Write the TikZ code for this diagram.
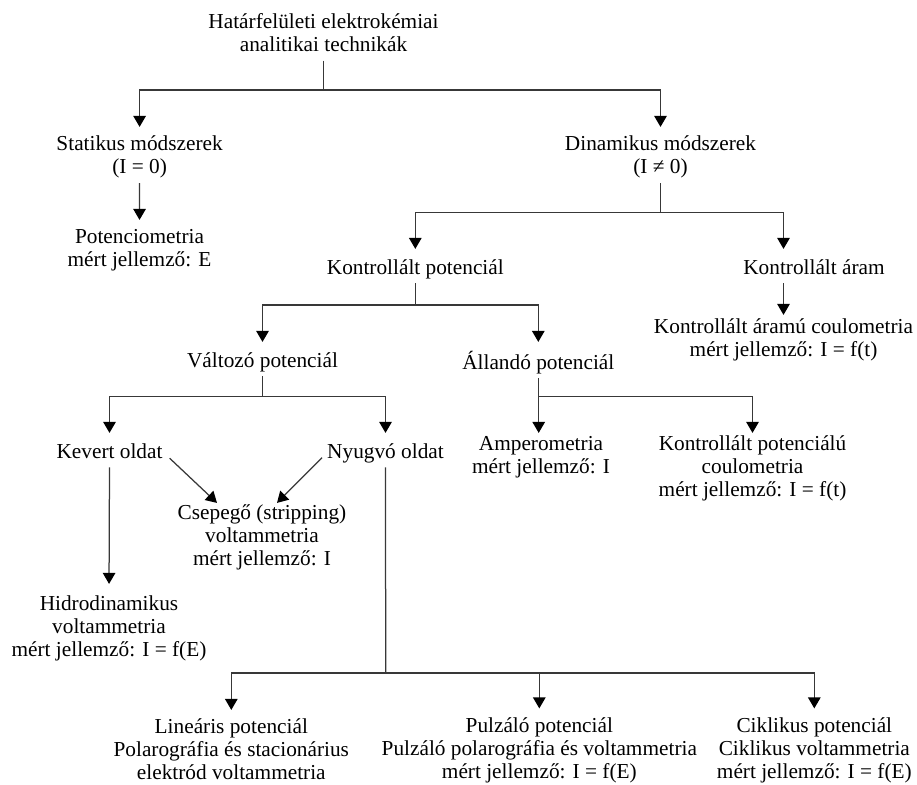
\documentclass[tikz,border=0pt]{standalone}
\usepackage{fontspec}
\setmainfont{Liberation Serif}
\usetikzlibrary{arrows.meta}
\begin{document}
\begin{tikzpicture}[x=1pt,y=-1pt,
  lbl/.style={align=center, anchor=north, inner xsep=0pt, inner ysep=2pt,
    font=\fontsize{21.3}{23}\selectfont,
    execute at begin node=\strut, execute at end node=\strut},
  wire/.style={draw=black!78, line width=1.25pt},
  arr/.style={wire, -{Triangle[width=12.5pt,length=11pt,color=black]}, shorten >=7pt},
  arrs/.style={arr, shorten >=1pt}]
\useasboundingbox (0,0) rectangle (917,784);

% labels (placed by the top of their first line)
\node[lbl] (title)  at (323.5, 11.4) {Határfelületi elektrokémiai\\analitikai technikák};
\node[lbl] (stat)   at (139.6, 133.9) {Statikus módszerek\\(I = 0)};
\node[lbl] (din)    at (660.5, 133.9) {Dinamikus módszerek\\(I ≠ 0)};
\node[lbl] (pot)    at (139.5, 226.9) {Potenciometria\\mért jellemző: E};
\node[lbl] (kp)     at (415.3, 255.9) {Kontrollált potenciál};
\node[lbl] (ka)     at (814.0, 255.9) {Kontrollált áram};
\node[lbl] (kac)    at (783.5, 316.9) {Kontrollált áramú coulometria\\mért jellemző: I = f(t)};
\node[lbl] (valt)   at (262.5, 348.9) {Változó potenciál};
\node[lbl] (alland) at (538.3, 348.9) {Állandó potenciál};
\node[lbl] (kev)    at (109.5, 439.9) {Kevert oldat};
\node[lbl] (nyug)   at (385.5, 439.9) {Nyugvó oldat};
\node[lbl] (amp)    at (541.0, 433.9) {Amperometria\\mért jellemző: I};
\node[lbl] (kpc)    at (752.5, 433.9) {Kontrollált potenciálú\\coulometria\\mért jellemző: I = f(t)};
\node[lbl] (csep)   at (262.0, 502.9) {Csepegő (stripping)\\voltammetria\\mért jellemző: I};
\node[lbl] (hidro)  at (109.0, 593.9) {Hidrodinamikus\\voltammetria\\mért jellemző: I = f(E)};
\node[lbl] (lin)    at (231.3, 716.9) {Lineáris potenciál\\Polarográfia és stacionárius\\elektród voltammetria};
\node[lbl] (pulz)   at (539.3, 715.4) {Pulzáló potenciál\\Pulzáló polarográfia és voltammetria\\mért jellemző: I = f(E)};
\node[lbl] (cikl)   at (814.3, 715.4) {Ciklikus potenciál\\Ciklikus voltammetria\\mért jellemző: I = f(E)};

% branching points
\coordinate (b1) at (323.5, 90);
\coordinate (b2) at (660.5, 212.7);
\coordinate (b3) at (415.3, 305);
\coordinate (b4) at (262.5, 396.7);
\coordinate (b5) at (538.7, 396.7);
\coordinate (b6) at (385.7, 673);

% top level
\draw[wire] (title.south) -- (b1);
\draw[arr] (b1) -| (stat.north);
\draw[arr] (b1) -| (din.north);
\draw[arr] (stat.south) -- (pot.north);

% dynamic methods
\draw[wire] (din.south) -- (b2);
\draw[arr] (b2) -| (kp.north);
\draw[arr] (b2) -| (kac.north |- ka.north);
\draw[arrs, shorten >=2pt] (kac.north |- ka.south) -- (kac.north);

% controlled potential
\draw[wire] (kp.south) -- (b3);
\draw[arr] (b3) -| (valt.north);
\draw[arr] (b3) -| (alland.north);

% varying potential
\draw[wire] (valt.south) -- (b4);
\draw[arr] (b4) -| (kev.north);
\draw[arr] (b4) -| (nyug.north);

% constant potential
\draw[arrs] (b5 |- alland.south) -- (b5 |- amp.north);
\draw[arrs] (b5) -| (kpc.north);

% stirred / quiet solution
\draw[arr, shorten >=10pt] (kev.south) -- (hidro.north);
\draw[arr, shorten >=0pt] ([xshift=7pt, yshift=-4.6pt]kev.east) -- ([xshift=-45pt]csep.north);
\draw[arr, shorten >=0pt] ([xshift=-5pt, yshift=-4pt]nyug.west) -- ([xshift=15pt]csep.north);

% quiet solution techniques
\draw[wire] (nyug.south) -- (b6);
\draw[arr] (b6) -| (lin.north);
\draw[arr] (b6) -| (pulz.north);
\draw[arr] (b6) -| (cikl.north);
\end{tikzpicture}
\end{document}
